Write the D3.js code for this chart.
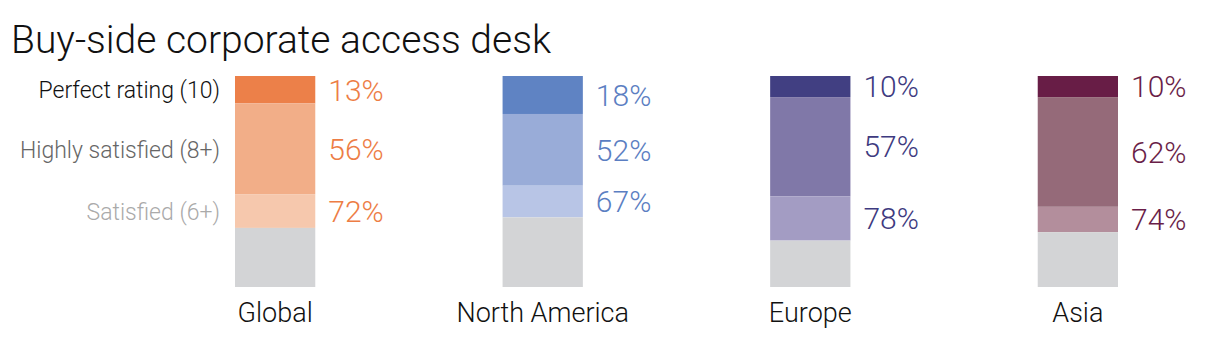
<!DOCTYPE html>
<html>
<head>
<meta charset="utf-8">
<script src="https://cdn.jsdelivr.net/npm/d3@7"></script>
<style>
  body { margin: 0; background: #fff; }
  svg { display: block; font-family: Roboto, "DejaVu Sans", sans-serif; }
</style>
</head>
<body>
<svg id="chart" width="1219" height="352"></svg>
<script>
// regions and their cumulative shares (perfect, 8+, 6+)
const regions = ["Global", "North America", "Europe", "Asia"];
const perfect = [13, 18, 10, 10];
const highly = [56, 52, 57, 62];
const satisfied = [72, 67, 78, 74];
const levels = ["Perfect rating (10)", "Highly satisfied (8+)", "Satisfied (6+)"];

// colours per region: dark, mid, light, label
const palette = {
  "Global":        ["#ec8049", "#f2ae88", "#f6c8ad", "#ed7d45"],
  "North America": ["#5f83c3", "#99acd8", "#b8c5e6", "#5b7ec2"],
  "Europe":        ["#413f82", "#8078a8", "#a39cc3", "#3e3a80"],
  "Asia":          ["#681d46", "#956a79", "#b38e9c", "#6a1e48"]
};
const grey = "#d3d4d6";
const legendColors = ["#111", "#666", "#aaa"];

const svg = d3.select("#chart");

svg.append("text")
    .attr("x", 11)
    .attr("y", 53)
    .attr("font-size", 39)
    .attr("font-weight", 300)
    .attr("fill", "#111")
    .text("Buy-side corporate access desk");

const x = d3.scaleBand()
    .domain(regions)
    .range([235, 1118])
    .paddingInner(0.7);

const y = d3.scaleLinear()
    .domain([0, 100])
    .range([76, 287]);  // 0% at top of bar

const rows = regions.map((r, i) => {
  const cuts = [0, perfect[i], highly[i], satisfied[i], 100];
  return { region: r, cuts: cuts, values: [perfect[i], highly[i], satisfied[i]] };
});

const g = svg.append("g")
    .selectAll("g")
    .data(rows)
    .enter().append("g");

// segments
g.selectAll("rect")
    .data(d => d3.range(4).map(k => ({ region: d.region, k: k, y0: d.cuts[k], y1: d.cuts[k + 1] })))
    .enter().append("rect")
    .attr("x", d => x(d.region))
    .attr("width", x.bandwidth())
    .attr("y", d => y(d.y0))
    .attr("height", d => y(d.y1) - y(d.y0))
    .attr("fill", d => d.k < 3 ? palette[d.region][d.k] : grey);

// value labels centred on each segment
g.selectAll("text.val")
    .data(d => d.values.map((v, k) => ({ region: d.region, v: v, mid: (d.cuts[k] + d.cuts[k + 1]) / 2 })))
    .enter().append("text")
    .attr("class", "val")
    .attr("x", d => x(d.region) + x.bandwidth() + 13)
    .attr("y", d => y(d.mid))
    .attr("dy", "0.36em")
    .attr("font-size", 30)
    .attr("font-weight", 300)
    .attr("fill", d => palette[d.region][3])
    .text(d => d.v + "%");

// region names
g.append("text")
    .attr("x", d => x(d.region) + x.bandwidth() / 2)
    .attr("y", 322)
    .attr("text-anchor", "middle")
    .attr("font-size", 27)
    .attr("font-weight", 300)
    .attr("fill", "#111")
    .text(d => d.region);

// legend beside the first bar
const first = rows[0];
svg.append("g")
    .selectAll("text")
    .data(levels)
    .enter().append("text")
    .attr("x", x(regions[0]) - 15)
    .attr("y", (d, k) => y((first.cuts[k] + first.cuts[k + 1]) / 2))
    .attr("dy", "0.38em")
    .attr("text-anchor", "end")
    .attr("font-size", 23)
    .attr("font-weight", 300)
    .attr("fill", (d, k) => legendColors[k])
    .text(d => d);
</script>
</body>
</html>
